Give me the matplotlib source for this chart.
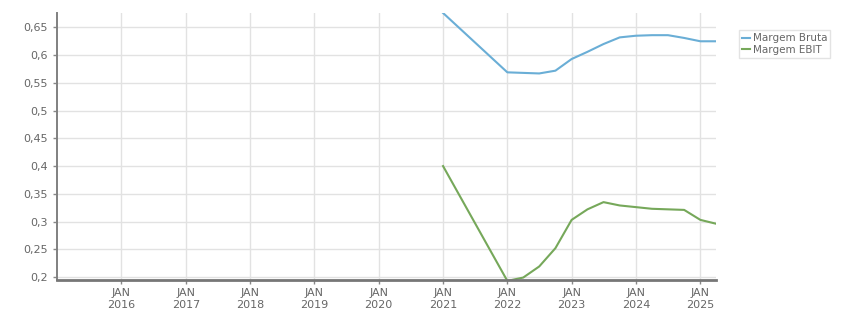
import datetime as dt
import matplotlib
matplotlib.use("Agg")
import matplotlib.pyplot as plt
import matplotlib.dates as mdates
from matplotlib.ticker import FuncFormatter

# quarterly dates (Jan 2021, then quarterly from Jan 2022)
dates = ["2021-01-01", "2022-01-01", "2022-04-01", "2022-07-01", "2022-10-01",
         "2023-01-01", "2023-04-01", "2023-07-01", "2023-10-01",
         "2024-01-01", "2024-04-01", "2024-07-01", "2024-10-01",
         "2025-01-01", "2025-04-01"]
margem_bruta = [0.676, 0.569, 0.568, 0.567, 0.572, 0.593, 0.606, 0.620, 0.632,
                0.635, 0.636, 0.636, 0.631, 0.625, 0.625]
margem_ebit = [0.400, 0.193, 0.199, 0.219, 0.252, 0.303, 0.322, 0.335, 0.329,
               0.326, 0.323, 0.322, 0.321, 0.303, 0.296]
year_ticks = list(range(2016, 2026))

x = [dt.datetime.strptime(d, "%Y-%m-%d") for d in dates]

fig = plt.figure(figsize=(8.51, 3.13), dpi=100)
ax = fig.add_axes([0.067, 0.1054, 0.7744, 0.8531])

ax.plot(x, margem_bruta, color="#6aaed6", lw=1.5, label="Margem Bruta")
ax.plot(x, margem_ebit, color="#76a85a", lw=1.5, label="Margem EBIT")

ax.set_xlim(dt.datetime(2015, 1, 1), dt.datetime(2025, 3, 31))
ax.set_ylim(0.1946, 0.676)

ax.set_xticks([dt.datetime(y, 1, 1) for y in year_ticks])
ax.set_xticklabels([f"JAN\n{y}" for y in year_ticks])
ax.set_yticks([0.2, 0.25, 0.3, 0.35, 0.4, 0.45, 0.5, 0.55, 0.6, 0.65])
ax.yaxis.set_major_formatter(FuncFormatter(lambda v, p: f"{v:g}".replace(".", ",")))

ax.grid(True, color="#e2e2e2", lw=1)
ax.set_axisbelow(True)
for s in ["top", "right"]:
    ax.spines[s].set_visible(False)
ax.spines["left"].set_color("#808080")
ax.spines["left"].set_linewidth(1.4)
ax.spines["bottom"].set_color("#777777")
ax.spines["bottom"].set_linewidth(2)

ax.tick_params(axis="both", colors="#888888", labelcolor="#666666", labelsize=8,
               length=3, width=1)
ax.tick_params(axis="x", pad=3)

leg = ax.legend(loc="upper left", bbox_to_anchor=(1.035, 0.935), fontsize=7.5,
                frameon=True, fancybox=False, handlelength=0.7, handletextpad=0.3,
                borderpad=0.3, labelspacing=0.1, borderaxespad=0)
leg.get_frame().set_edgecolor("#dddddd")
leg.get_frame().set_linewidth(1)
for t in leg.get_texts():
    t.set_color("#666666")

fig.savefig("out.png", dpi=100)
